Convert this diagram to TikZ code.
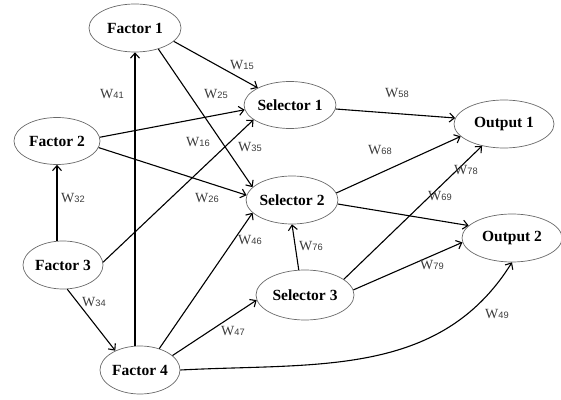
\documentclass[tikz,border=0pt]{standalone}
\usepackage{fontspec}
\setmainfont{Liberation Serif}
\newfontfamily\subfont{Liberation Sans}
\usetikzlibrary{arrows.meta, shapes.geometric}
\definecolor{wgray}{RGB}{60,60,60}
\definecolor{rimgray}{RGB}{105,105,105}
\newcommand{\wlab}[1]{W{\subfont\fontsize{9.3}{10}\selectfont\raisebox{-0.8pt}{#1}}}

\begin{document}
\begin{tikzpicture}[x=1pt, y=1pt,
  unit/.style={ellipse, draw=rimgray, line width=0.7pt, inner sep=0pt,
               minimum width=86pt, minimum height=47pt,
               font=\fontsize{15.5}{18}\selectfont\bfseries},
  wt/.style={font=\fontsize{14}{16}\selectfont, text=wgray, inner sep=0pt},
  link/.style={-{Straight Barb[length=5pt,width=9pt]}, line width=1.1pt}]
  \useasboundingbox (0,0) rectangle (561,399);

  % Factor nodes
  \node[unit, minimum width=92pt, minimum height=48pt] (f1) at (135,371) {Factor 1};
  \node[unit] (f2) at (57,258) {Factor 2};
  \node[unit, minimum width=80pt, minimum height=48pt] (f3) at (63,134) {Factor 3};
  \node[unit, minimum width=80pt, minimum height=48pt] (f4) at (140,29) {Factor 4};

  % Selector nodes
  \node[unit] (s1) at (290,294) {Selector 1};
  \node[unit, minimum width=90pt, minimum height=48pt] (s2) at (292,199) {Selector 2};
  \node[unit, minimum width=98pt, minimum height=50pt] (s3) at (305,104) {Selector 3};

  % Output nodes
  \node[unit, minimum width=100pt, minimum height=48pt] (o1) at (504,275) {Output 1};
  \node[unit, minimum width=100pt, minimum height=48pt] (o2) at (512,161) {Output 2};

  % Factor links
  \draw[link] (f1.-19) -- (s1.152);
  \draw[link] (f1.-42) -- (s2.162);
  \draw[link] (f2.5) -- (s1.186);
  \draw[link] (f2.-9) -- (s2.174);
  \draw[link] (f3.north -| f2.south) -- (f2.south);
  \draw[link] (f3.4) -- (s1.202);
  \draw[link] (f3.-80) -- (f4.142);
  \draw[link] (f4.north -| f1.south) -- (f1.south);
  \draw[link] (f4.48) -- (s2.198);
  \draw[link] (f4.24) -- (s3.186);
  \draw[link] (f4.east) to[out=3, in=-122] (o2.south);

  % Selector links
  \draw[link] (s1.-5) -- (o1.173);
  \draw[link] (s2.9) -- (o1.196);
  \draw[link] (s2.-5) -- (o2.164);
  \draw[link] (s3.104) -- (s2.south);
  \draw[link] (s3.22) -- (o1.225);
  \draw[link] (s3.6) -- (o2.185);

  % Weights
  \node[wt] (w15) at (242,334) {\wlab{15}};
  \node[wt] (w25) at (216,305) {\wlab{25}};
  \node[wt] (w41) at (112,305) {\wlab{41}};
  \node[wt] (w16) at (198,257) {\wlab{16}};
  \node[wt] (w35) at (250,252) {\wlab{35}};
  \node[wt] (w32) at (73,201) {\wlab{32}};
  \node[wt] (w26) at (207,201) {\wlab{26}};
  \node[wt] (w46) at (250,159) {\wlab{46}};
  \node[wt] (w34) at (94,97) {\wlab{34}};
  \node[wt] (w47) at (233,68) {\wlab{47}};
  \node[wt] (w76) at (311,153) {\wlab{76}};
  \node[wt] (w58) at (397,306) {\wlab{58}};
  \node[wt] (w68) at (380,249) {\wlab{68}};
  \node[wt] (w78) at (466,229) {\wlab{78}};
  \node[wt] (w69) at (440,203) {\wlab{69}};
  \node[wt] (w79) at (432,134) {\wlab{79}};
  \node[wt] (w49) at (497,85) {\wlab{49}};
\end{tikzpicture}
\end{document}
